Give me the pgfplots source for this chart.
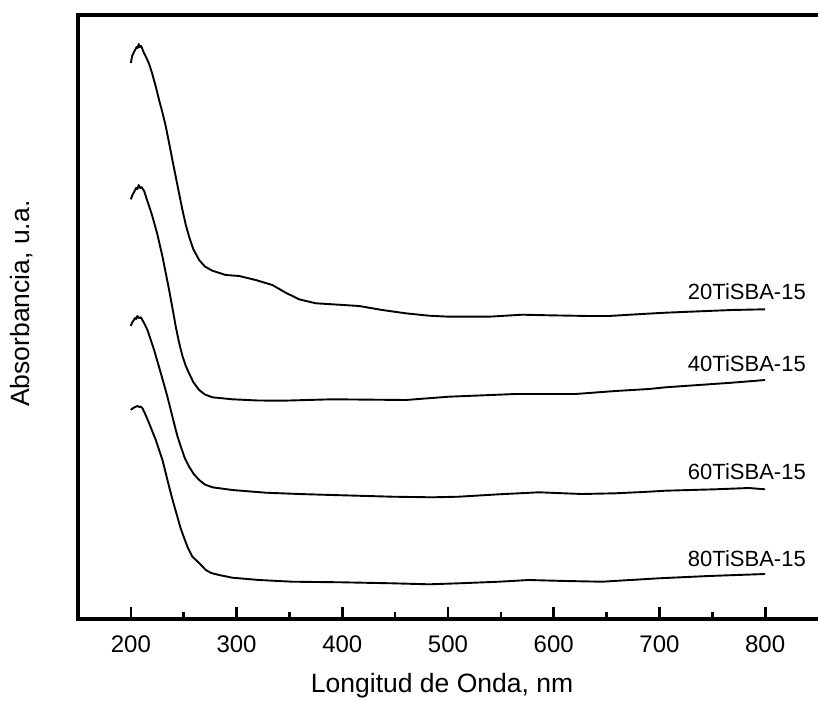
\documentclass[border=0pt]{standalone}
\usepackage{fontspec}
\setmainfont{Liberation Sans}
\usepackage{pgfplots}
\pgfplotsset{compat=1.18}
\usetikzlibrary{calc}
\begin{document}
\begin{tikzpicture}
\begin{axis}[
  scale only axis, width=740pt, height=604pt,
  xmin=150, xmax=850, ymin=0, ymax=604,
  axis line style={draw=none},
  xtick={200,300,...,800}, minor xtick={250,350,...,750},
  ytick=\empty,
  xtick pos=left,
  tick align=inside,
  major tick length=12pt, minor tick length=7pt,
  tick style={black, line width=2.7pt},
  xticklabel style={font=\fontsize{24}{28}\selectfont, anchor=base, yshift=-33pt},
  /pgf/number format/assume math mode=true,
  /pgf/number format/1000 sep={},
  clip=false,
]
\addplot[black, line width=1.9pt, line join=round, no marks] coordinates {
(200,556) (201.2,563) (203,567) (204,569) (205.5,572) (206.5,571) (207.4,575) (208.5,572) (209.7,573)
(212,567) (214.2,562.3) (217.3,555) (220,546) (223.6,532.3) (226.7,519) (230,506) (233.1,492.3) (236,477) (239.3,459)
(244,434) (248.8,409) (252,394) (255.1,382.3) (259,370) (264.6,359) (270,352.5) (277.1,348.3) (289.8,344) (302.4,343)
(318.1,339) (333.8,334) (346.5,326.3) (359.1,319.7) (374.9,315.7) (390.5,314.7) (415.8,313)
(437.8,309) (459.9,305.7) (482,303.3) (500.9,302.3) (538.7,302.3) (570.1,304.3) (595.4,303.7)
(633.2,303) (652.1,303) (683.5,305) (705.7,306.3) (768.6,309) (800,309.7)
};
\addplot[black, line width=1.9pt, line join=round, no marks] coordinates {
(200,419.7) (201.5,424) (203.1,427) (205,431) (206.2,430) (207.4,434) (208.6,431) (210,432) (212.6,428)
(215,420) (220,404) (225,385) (230,362) (233,346) (236.2,329) (239.5,310) (242.5,292.3)
(245.7,276) (248.8,263) (252,253) (255.1,245.7) (259,237) (264.6,229) (270,224.5) (277.1,221.7) (296,219.7) (320,218.5) (343.3,218.3)
(390.5,219.7) (459.9,219) (500.9,222.3) (563.9,225) (620.6,225) (658.4,228) (690.1,230)
(705.7,231.7) (768.6,236.3) (800,239)
};
\addplot[black, line width=1.9pt, line join=round, no marks] coordinates {
(200,293) (201,296) (202.2,298) (204,301) (205,300) (206.2,303) (207.5,301) (209.5,301.7)
(212.5,296) (215.7,289) (222,269) (228.4,245.7) (234.6,222.3) (240.9,195.7) (244,183) (247.3,172.3) (251,161) (255.1,152.3)
(259.5,145) (264.6,139) (270,134.5) (277.1,131.7) (296,129) (327.6,126.3) (359.1,125) (390.5,124) (447.3,122.3)
(485.1,121.7) (510.3,122.3) (548.1,124.7) (585.9,126.7) (626.8,125) (658.4,125.7) (690.1,127.3)
(705.7,128.3) (752.9,129.7) (784.5,131) (800,129.7)
};
\addplot[black, line width=1.9pt, line join=round, no marks] coordinates {
(200,209) (201,210) (202.2,211) (204,212) (206.2,213) (208,212) (209,212.5) (211,210.7)
(214,204) (217.3,195.7) (223.6,179) (229.9,159) (236.2,132.3) (240,117) (244,102.3) (247,91) (250.4,81) (254,71) (258.2,62.3)
(264.6,56) (270.9,49) (276,46) (283.5,44) (296,41.3) (321.3,39) (352.7,37.3) (400,36.7) (447.3,35.7)
(482,34.7) (510.3,35.7) (548.1,37.3) (576.5,39) (611.2,38) (645.7,37.3) (699.3,40.7)
(746.6,43) (800,45)
};
\draw[line width=3.3pt, line join=miter] (rel axis cs:1,1) -- (rel axis cs:0,1) -- (rel axis cs:0,0) -- (rel axis cs:1,0);
\coordinate (bl) at (rel axis cs:0,0);
\coordinate (tr) at (rel axis cs:1,1);
\node[anchor=base, inner sep=0pt, font=\fontsize{26.5}{30}\selectfont] at (rel axis cs:0.492,-0.1225) {Longitud de Onda, nm};
\node[rotate=90, anchor=base, inner sep=0pt, font=\fontsize{26.5}{30}\selectfont] at (rel axis cs:-0.0662,0.522) {Absorbancia, u.a.};
\node[anchor=base west, inner sep=0pt, font=\fontsize{22}{26}\selectfont] at (axis cs:726.8,319) {20TiSBA-15};
\node[anchor=base west, inner sep=0pt, font=\fontsize{22}{26}\selectfont] at (axis cs:726.8,247.3) {40TiSBA-15};
\node[anchor=base west, inner sep=0pt, font=\fontsize{22}{26}\selectfont] at (axis cs:726.8,139.7) {60TiSBA-15};
\node[anchor=base west, inner sep=0pt, font=\fontsize{22}{26}\selectfont] at (axis cs:726.8,53) {80TiSBA-15};
\end{axis}
\pgfresetboundingbox
\path ($(bl)+(-78pt,-81pt)$) rectangle ($(tr)+(0pt,15pt)$);
\end{tikzpicture}
\end{document}
